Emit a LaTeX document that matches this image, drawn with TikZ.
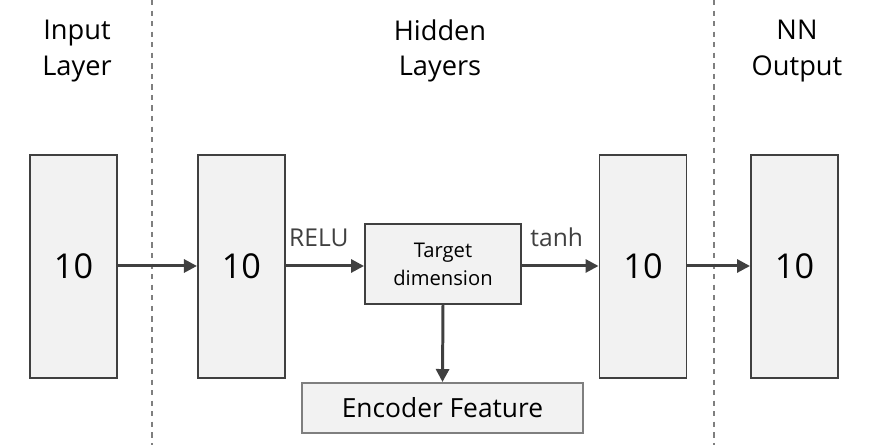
\documentclass[tikz,border=0pt]{standalone}
\usepackage{fontspec}
\setmainfont{Open Sans}
\usepackage{xcolor}
\usepackage{tikz}
\usetikzlibrary{arrows.meta,positioning,calc}

\definecolor{boxgray}{HTML}{F2F2F2}
\definecolor{linegray}{HTML}{404040}
\definecolor{dashgray}{HTML}{7F7F7F}

\tikzset{
  layerbox/.style={rectangle, draw=linegray, line width=1.1pt, fill=boxgray, minimum width=1.74cm, minimum height=4.46cm, inner sep=0pt, font=\fontsize{19.5}{22}\selectfont},
  dimbox/.style={rectangle, draw=linegray, line width=1.1pt, fill=boxgray, minimum width=3.12cm, minimum height=1.6cm, align=center, font=\fontsize{11.5}{16}\selectfont},
  featbox/.style={rectangle, draw=dashgray, line width=1.1pt, fill=boxgray, minimum width=5.62cm, minimum height=1cm, font=\fontsize{15}{17}\selectfont},
  headlabel/.style={align=center, font=\fontsize{15.5}{20}\selectfont},
  actlabel/.style={inner sep=0pt, font=\fontsize{14}{16}\selectfont},
  flow/.style={-{Triangle[length=2.6mm,width=2.6mm]}, line width=1.7pt, color=linegray},
  divider/.style={dashed, line width=0.8pt, color=dashgray}
}

\begin{document}
\begin{tikzpicture}
\useasboundingbox (0,0) rectangle (17.48,8.9);
% layers
\node[layerbox] (inlayer) at (1.47,3.57) {10};
\node[layerbox, right=1.58cm of inlayer] (hid1) {10};
\node[dimbox] (target) at (8.86,3.62) {Target\\dimension};
\node[layerbox] (hid2) at (12.86,3.57) {10};
\node[layerbox] (outlayer) at (15.89,3.57) {10};
\node[featbox] (encfeat) at (8.85,0.74) {Encoder Feature};
% headings
\node[headlabel] (inhead) at (1.54,7.88) {Input\\Layer};
\node[headlabel] (hidhead) at (8.8,7.88) {Hidden\\Layers};
\node[headlabel] (outhead) at (15.94,7.88) {NN\\Output};
% dividers
\coordinate (divAtop) at (3.04,8.9);
\coordinate (divAbot) at (3.04,0);
\coordinate (divBtop) at (14.28,8.9);
\coordinate (divBbot) at (14.28,0);
\draw[divider] (divAtop) -- (divAbot);
\draw[divider] (divBtop) -- (divBbot);
% connections
\draw[flow] (inlayer.east |- 0,3.58) -- (hid1.west |- 0,3.58);
\draw[flow] (hid1.east |- 0,3.58) -- (target.west |- 0,3.58)
  node[actlabel, pos=0, anchor=base west, xshift=1pt, yshift=0.38cm] (relu) {RELU};
\draw[flow] (target.east |- 0,3.58) -- (hid2.west |- 0,3.58)
  node[actlabel, pos=0, anchor=base west, xshift=4pt, yshift=0.38cm] (tanh) {tanh};
\draw[flow] (hid2.east |- 0,3.58) -- (outlayer.west |- 0,3.58);
\draw[flow] (target.south) -- (encfeat.north);
\end{tikzpicture}
\end{document}
